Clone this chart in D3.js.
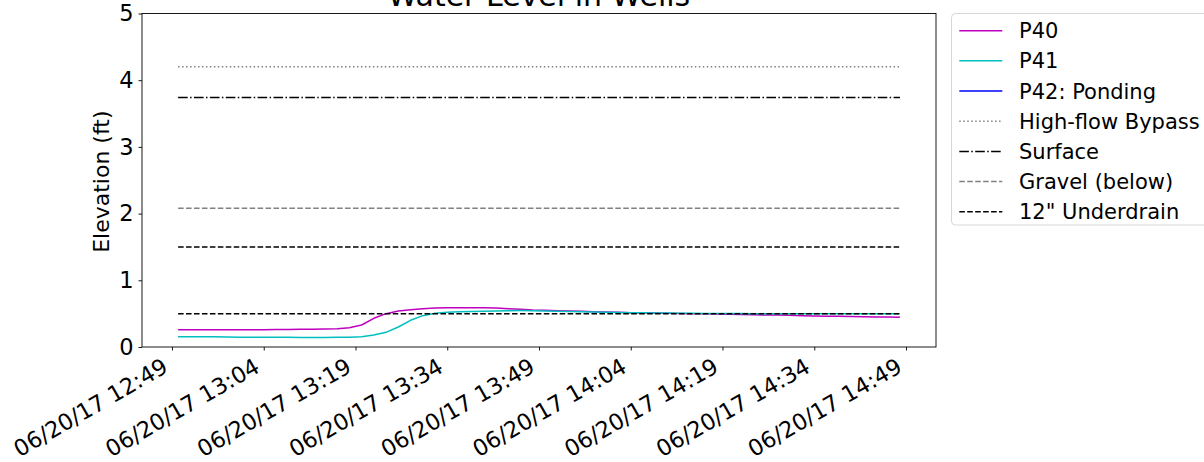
<!DOCTYPE html>
<html>
<head>
<meta charset="utf-8">
<script src="https://cdn.jsdelivr.net/npm/d3@7"></script>
<style>
  body { margin: 0; background: #fff; }
  svg { display: block; }
  text { font-family: "DejaVu Sans", sans-serif; fill: #000; }
</style>
</head>
<body>
<svg id="chart" width="1204" height="462"></svg>
<script>
// Logger readings, one every 2 minutes from 06/20/17 12:50 to 14:48
const sampleStart = "06/20/17 12:50";
const sampleStepMinutes = 2;

// Water level (ft) in well P40
const p40 = [
  0.26, 0.26, 0.26, 0.26, 0.26, 0.26, 0.26, 0.26, 0.262, 0.264,
  0.265, 0.267, 0.27, 0.275, 0.29, 0.33, 0.43, 0.50, 0.54, 0.56,
  0.575, 0.585, 0.59, 0.59, 0.59, 0.59, 0.585, 0.575, 0.565, 0.555,
  0.55, 0.545, 0.54, 0.535, 0.53, 0.525, 0.52, 0.515, 0.513, 0.51,
  0.506, 0.504, 0.50, 0.498, 0.495, 0.49, 0.488, 0.485, 0.48, 0.478,
  0.475, 0.47, 0.466, 0.462, 0.46, 0.456, 0.453, 0.45, 0.448, 0.445
];

// Water level (ft) in well P41
const p41 = [
  0.155, 0.155, 0.153, 0.152, 0.15, 0.148, 0.147, 0.146, 0.145, 0.145,
  0.144, 0.144, 0.144, 0.145, 0.147, 0.155, 0.18, 0.22, 0.30, 0.40,
  0.47, 0.505, 0.52, 0.528, 0.533, 0.537, 0.541, 0.545, 0.546, 0.545,
  0.54, 0.535, 0.531, 0.528, 0.525, 0.521, 0.518, 0.515, 0.512, 0.51,
  0.508, 0.506, 0.505, 0.504, 0.503, 0.502, 0.501, 0.50, 0.50, 0.50,
  0.50, 0.50, 0.50, 0.50, 0.499, 0.499, 0.498, 0.498, 0.498, 0.498
];

// Ponding gauge P42 recorded nothing over this window
const p42 = [];

// Reference elevations (ft)
const refNames  = ["High-flow Bypass", "Surface", "Gravel (below)", "12\" Underdrain", "12\" Underdrain"];
const refValues = [4.2, 3.74, 2.08, 1.5, 0.5];

const yTicks = [0, 1, 2, 3, 4, 5];
const xTickLabels = [
  "06/20/17 12:49", "06/20/17 13:04", "06/20/17 13:19", "06/20/17 13:34",
  "06/20/17 13:49", "06/20/17 14:04", "06/20/17 14:19", "06/20/17 14:34",
  "06/20/17 14:49"
];

const parse = d3.timeParse("%m/%d/%y %H:%M");
const t0 = parse(sampleStart);
const times = p40.map((_, i) => d3.timeMinute.offset(t0, i * sampleStepMinutes));
const tStart = times[0], tEnd = times[times.length - 1];

// Plot frame
const L = 142, R = 936, T = 13.5, B = 347;
const svg = d3.select("#chart");

// 5% padding on each side of the sampled time span
const spanMs = tEnd - tStart;
const x = d3.scaleTime()
  .domain([new Date(+tStart - spanMs * 0.05), new Date(+tEnd + spanMs * 0.05)])
  .range([L, R]);
const y = d3.scaleLinear().domain([0, 5]).range([B, T]);

const lw = 1.5;
const styles = {
  P40:     { color: "#bf00bf", dash: null },
  P41:     { color: "#00bfbf", dash: null },
  P42:     { color: "#0000ff", dash: null },
  bypass:  { color: "#808080", dash: [1 * lw, 1.65 * lw] },
  surface: { color: "#000000", dash: [6.4 * lw, 1.6 * lw, 1 * lw, 1.6 * lw] },
  gravel:  { color: "#808080", dash: [3.7 * lw, 1.6 * lw] },
  under:   { color: "#000000", dash: [3.7 * lw, 1.6 * lw] }
};
const refStyleKeys = ["bypass", "surface", "gravel", "under", "under"];

const line = d3.line()
  .defined(d => d.v != null)
  .x(d => x(d.t))
  .y(d => y(d.v));

const plot = svg.append("g");

// Well series
[["P40", p40], ["P41", p41], ["P42", p42]].forEach(([key, vals]) => {
  const pts = vals.map((v, i) => ({ t: times[i], v }));
  plot.append("path")
    .datum(pts)
    .attr("fill", "none")
    .attr("stroke", styles[key].color)
    .attr("stroke-width", lw)
    .attr("stroke-linejoin", "round")
    .attr("d", line);
});

// Reference elevations across the same time span
refValues.forEach((v, i) => {
  const st = styles[refStyleKeys[i]];
  plot.append("path")
    .datum([{ t: tStart, v }, { t: tEnd, v }])
    .attr("fill", "none")
    .attr("stroke", st.color)
    .attr("stroke-width", lw)
    .attr("stroke-dasharray", st.dash ? st.dash.join(",") : null)
    .attr("d", line);
});

// Frame
svg.append("rect")
  .attr("x", L).attr("y", T)
  .attr("width", R - L).attr("height", B - T)
  .attr("fill", "none")
  .attr("stroke", "#000")
  .attr("stroke-width", 0.9);

// Y axis
const yAxis = svg.append("g").attr("transform", `translate(${L},0)`)
  .call(d3.axisLeft(y).tickValues(yTicks).tickFormat(d3.format("d")).tickSize(3.5).tickPadding(5));
yAxis.select(".domain").remove();
yAxis.selectAll(".tick line").attr("stroke", "#000").attr("stroke-width", 0.9);
yAxis.selectAll(".tick text")
  .attr("font-size", 22.5)
  .attr("font-family", "DejaVu Sans")
  .attr("fill", "#000");

// X axis with rotated date labels
const xTickTimes = xTickLabels.map(s => parse(s));
const xAxis = svg.append("g").attr("transform", `translate(0,${B})`)
  .call(d3.axisBottom(x).tickValues(xTickTimes).tickFormat(d3.timeFormat("%m/%d/%y %H:%M")).tickSize(3.5));
xAxis.select(".domain").remove();
xAxis.selectAll(".tick line").attr("stroke", "#000").attr("stroke-width", 0.9);
xAxis.selectAll(".tick text")
  .attr("font-size", 22.5)
  .attr("font-family", "DejaVu Sans")
  .attr("fill", "#000")
  .attr("text-anchor", "end")
  .attr("dy", null)
  .attr("y", 0)
  .attr("transform", "translate(-3,24) rotate(-30)");

// Axis label
svg.append("text")
  .attr("transform", `translate(109,${(111.7 + 251.7) / 2}) rotate(-90)`)
  .attr("text-anchor", "middle")
  .attr("font-size", 22)
  .text("Elevation (ft)");

// Title (partly above the top edge)
svg.append("text")
  .attr("x", (L + R) / 2)
  .attr("y", 6)
  .attr("text-anchor", "middle")
  .attr("font-size", 30)
  .text("Water Level in Wells");

// Legend
const legendItems = [
  { name: "P40", key: "P40" },
  { name: "P41", key: "P41" },
  { name: "P42: Ponding", key: "P42" },
  { name: refNames[0], key: refStyleKeys[0] },
  { name: refNames[1], key: refStyleKeys[1] },
  { name: refNames[2], key: refStyleKeys[2] },
  { name: refNames[3], key: refStyleKeys[3] }
];
const lg = svg.append("g");
lg.append("rect")
  .attr("x", 951.5).attr("y", 13.5)
  .attr("width", 270).attr("height", 211.5)
  .attr("rx", 4)
  .attr("fill", "#fff").attr("fill-opacity", 0.8)
  .attr("stroke", "#d6d6d6").attr("stroke-width", 1);
legendItems.forEach((it, i) => {
  const cy = 30.7 + i * 30.17;
  const st = styles[it.key];
  lg.append("line")
    .attr("x1", 959.3).attr("x2", 1002.3)
    .attr("y1", cy).attr("y2", cy)
    .attr("stroke", st.color)
    .attr("stroke-width", lw)
    .attr("stroke-dasharray", st.dash ? st.dash.join(",") : null);
  lg.append("text")
    .attr("x", 1019)
    .attr("y", cy)
    .attr("dy", "0.36em")
    .attr("font-size", 21)
    .text(it.name);
});
</script>
</body>
</html>
